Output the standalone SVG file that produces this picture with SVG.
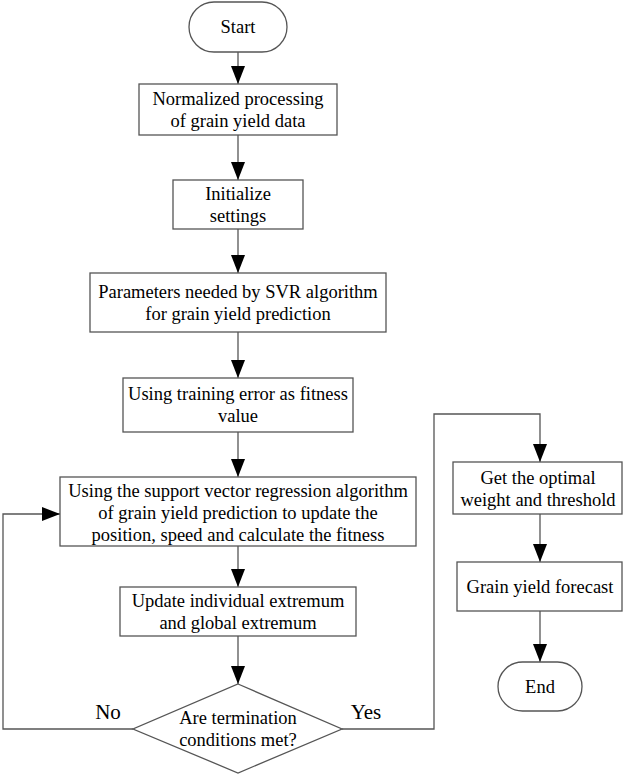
<svg xmlns="http://www.w3.org/2000/svg" width="624" height="776" viewBox="0 0 624 776">
<defs>
<marker id="ah" markerUnits="userSpaceOnUse" markerWidth="20" markerHeight="16" refX="18" refY="7" orient="auto">
<path d="M0,0 L18,7 L0,14 Z" fill="#000"/>
</marker>
<style>
.box{fill:#fff;stroke:#555;stroke-width:1.3}
.t{font-family:"Liberation Serif","Times New Roman",serif;font-size:18.5px;fill:#000;text-anchor:middle;dominant-baseline:central}
.lbl{font-size:21px}
.c{fill:none;stroke:#555;stroke-width:1.3}
</style>
</defs>
<rect width="624" height="776" fill="#fff"/>
<g id="connectors">
<line class="c" x1="238" y1="52" x2="238" y2="84" marker-end="url(#ah)"/>
<line class="c" x1="238" y1="135" x2="238" y2="180" marker-end="url(#ah)"/>
<line class="c" x1="238" y1="229" x2="238" y2="273" marker-end="url(#ah)"/>
<line class="c" x1="238" y1="332" x2="238" y2="378" marker-end="url(#ah)"/>
<line class="c" x1="238" y1="432" x2="238" y2="477" marker-end="url(#ah)"/>
<line class="c" x1="238" y1="546" x2="238" y2="587" marker-end="url(#ah)"/>
<line class="c" x1="238" y1="636" x2="238" y2="684" marker-end="url(#ah)"/>
<polyline class="c" points="133,729 3,729 3,514 60,514" marker-end="url(#ah)"/>
<polyline class="c" points="342,729 434,729 434,414 540,414 540,462" marker-end="url(#ah)"/>
<line class="c" x1="540" y1="514" x2="540" y2="562" marker-end="url(#ah)"/>
<line class="c" x1="540" y1="611" x2="540" y2="662" marker-end="url(#ah)"/>
<text class="t lbl" x="108" y="712">No</text>
<text class="t lbl" x="366" y="712">Yes</text>
</g>
<g id="start">
<rect class="box" x="189" y="2" width="98" height="50" rx="25" ry="25"/>
<text class="t" x="238" y="27">Start</text>
</g>
<g id="normalize">
<rect class="box" x="139" y="84" width="198" height="51"/>
<text class="t" x="238" y="98.5">Normalized processing</text>
<text class="t" x="238" y="120.5">of grain yield data</text>
</g>
<g id="init">
<rect class="box" x="173" y="180" width="130" height="49"/>
<text class="t" x="238" y="193.5">Initialize</text>
<text class="t" x="238" y="215.5">settings</text>
</g>
<g id="params">
<rect class="box" x="90" y="273" width="296" height="59"/>
<text class="t" x="238" y="291.5">Parameters needed by SVR algorithm</text>
<text class="t" x="238" y="313.5">for grain yield prediction</text>
</g>
<g id="fitness">
<rect class="box" x="123" y="378" width="230" height="54"/>
<text class="t" x="238" y="394">Using training error as fitness</text>
<text class="t" x="238" y="416">value</text>
</g>
<g id="svr">
<rect class="box" x="60" y="477" width="356" height="69"/>
<text class="t" x="238" y="490.5">Using the support vector regression algorithm</text>
<text class="t" x="238" y="512.5">of grain yield prediction to update the</text>
<text class="t" x="238" y="534.5">position, speed and calculate the fitness</text>
</g>
<g id="update">
<rect class="box" x="120" y="587" width="236" height="49"/>
<text class="t" x="238" y="601">Update individual extremum</text>
<text class="t" x="238" y="623">and global extremum</text>
</g>
<g id="decision">
<polygon class="box" points="238,684 342,729 238,773 133,729"/>
<text class="t" x="238" y="718">Are termination</text>
<text class="t" x="238" y="740">conditions met?</text>
</g>
<g id="optimal">
<rect class="box" x="453" y="462" width="169" height="52"/>
<text class="t" x="538" y="477.5">Get the optimal</text>
<text class="t" x="538" y="499.5">weight and threshold</text>
</g>
<g id="forecast">
<rect class="box" x="457" y="562" width="165" height="49"/>
<text class="t" x="540" y="587">Grain yield forecast</text>
</g>
<g id="end">
<rect class="box" x="498" y="662" width="84" height="49" rx="24.5" ry="24.5"/>
<text class="t" x="540" y="686.5">End</text>
</g>
</svg>
